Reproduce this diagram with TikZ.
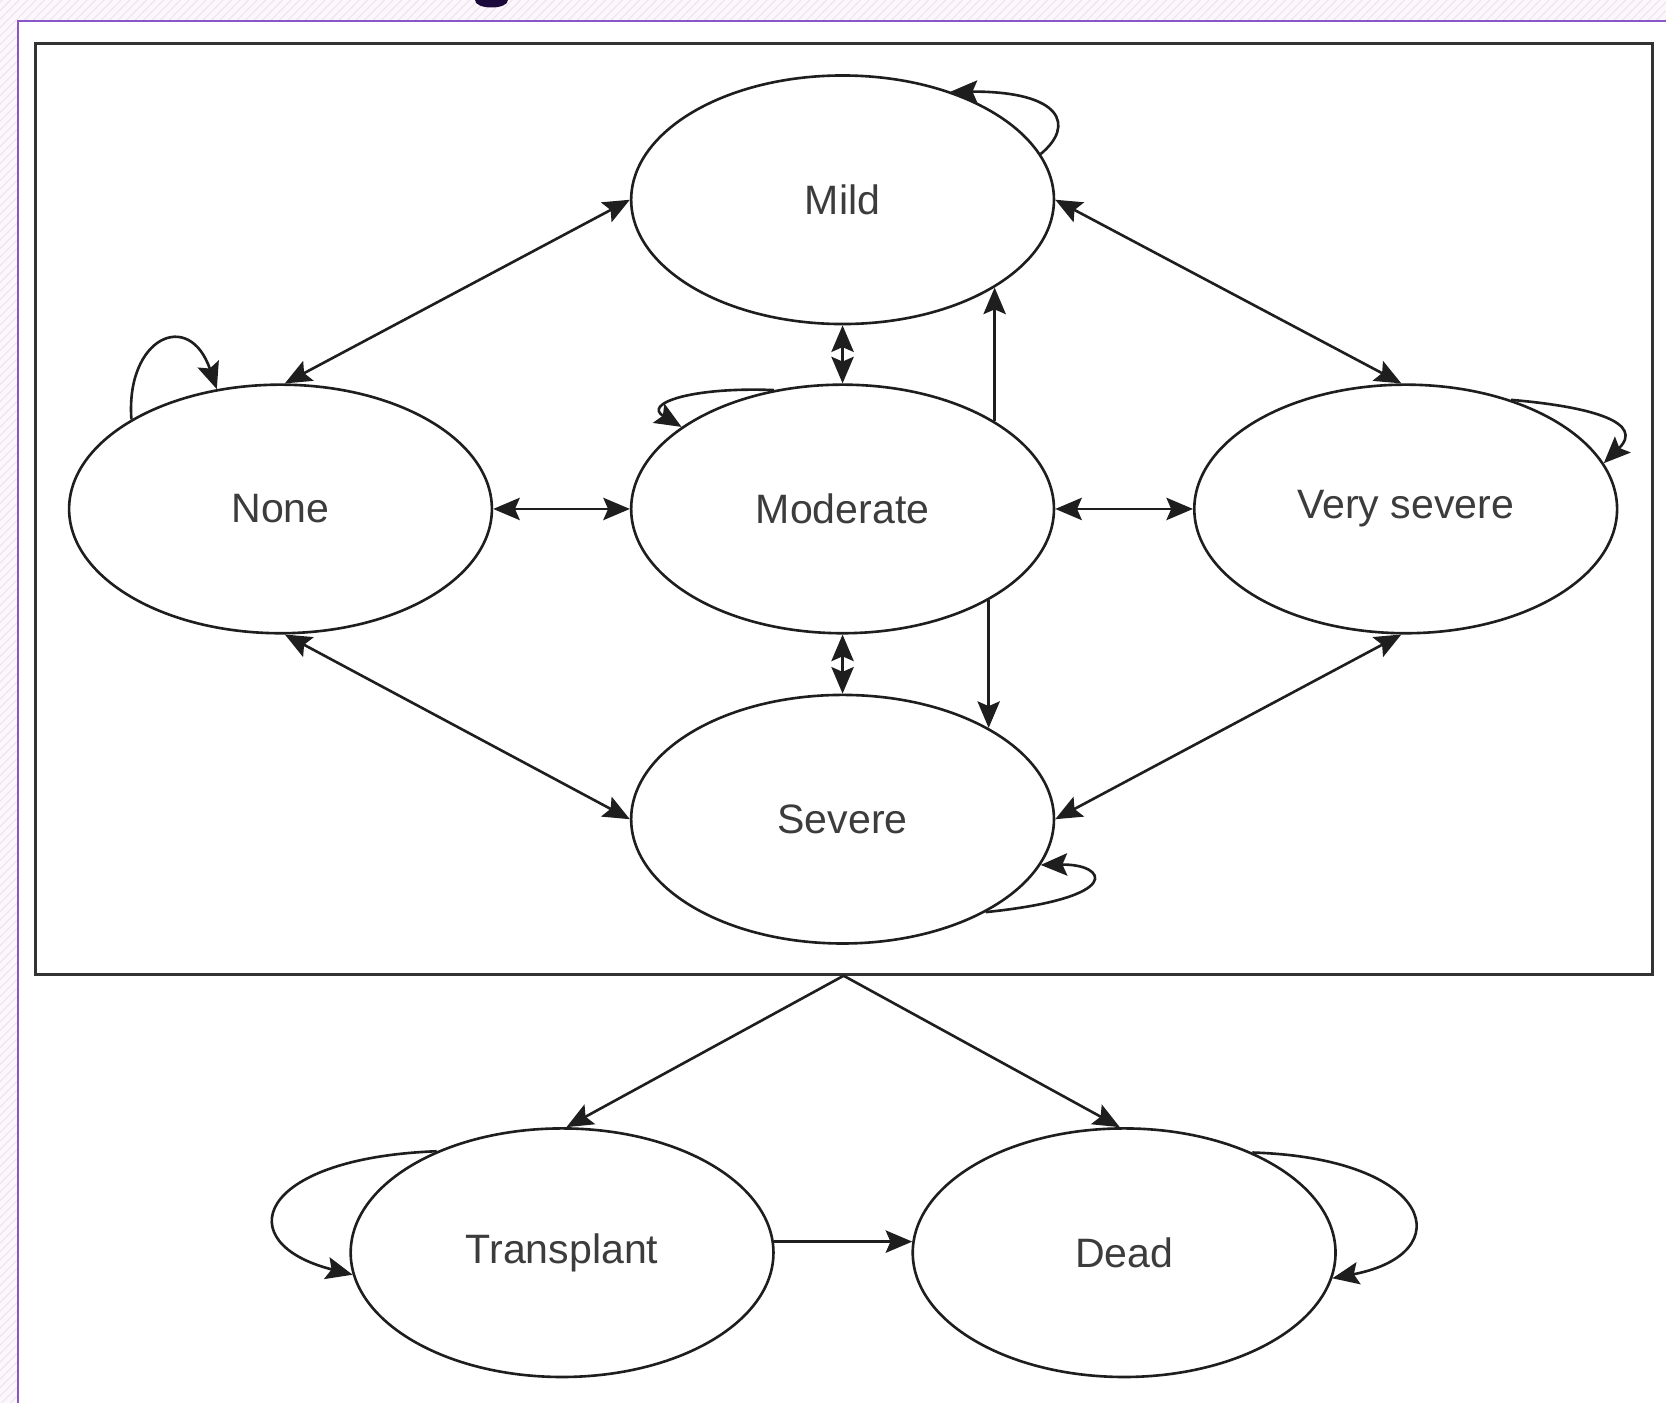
\documentclass[tikz,border=0pt]{standalone}
\usepackage{fontspec}
\setmainfont{Liberation Sans}
\usetikzlibrary{shapes.geometric,arrows.meta}
\definecolor{txtgray}{HTML}{3C3C3C}
\definecolor{linegray}{HTML}{1E1E1E}
\definecolor{framegray}{HTML}{333333}
\definecolor{purp}{HTML}{8A58C6}
\definecolor{hatchbg}{HTML}{FCF7FB}
\definecolor{hatchln}{HTML}{F1E2EE}
\definecolor{titledark}{HTML}{1C0A3C}
\begin{document}
\begin{tikzpicture}[x=0.02cm,y=-0.02cm,
  state/.style={ellipse, draw=linegray, line width=1.4pt, fill=white,
    minimum width=7.96cm, minimum height=4.68cm, inner sep=0pt,
    font=\fontsize{22}{26}\selectfont, text=txtgray},
  tip/.tip={Stealth[length=0.5cm,width=0.42cm,inset=0.09cm]},
  arr/.style={line width=1.4pt, draw=linegray, -tip},
  darr/.style={line width=1.4pt, draw=linegray, tip-tip}]
\useasboundingbox (0,0) rectangle (1568,1320);
% slide background
\fill[white] (0,0) rectangle (1568,1320);
\fill[hatchbg] (0,0) rectangle (1568,20);
\fill[hatchbg] (0,0) rectangle (17,1320);
\begin{scope}
  \clip (0,0) rectangle (1568,20) (0,0) rectangle (17,1320);
  \foreach \i in {-1400,-1392,...,1600}
    \draw[hatchln, line width=0.6pt] (\i,1330) -- ++(1330,-1330);
\end{scope}
\fill[titledark] (447,0) .. controls (447,9) and (478,9) .. (478,0) -- cycle;
\draw[purp, line width=1.1pt] (17,1320) -- (17,20) -- (1568,20);
% frame
\node[draw=framegray, line width=1.6pt, minimum width=30.44cm, minimum height=17.52cm, inner sep=0pt] (frame) at (794,479) {};
% states
\node[state] (mild) at (793,188) {Mild};
\node[state] (none) at (264,479) {None};
\node[state] (moderate) at (793,479) {Moderate};
\node[state] (vsevere) at (1323,479) {Very severe};
\node[state] (severe) at (793,771) {Severe};
\node[state] (transplant) at (529,1179) {Transplant};
\node[state] (dead) at (1058,1179) {Dead};
% two-way connectors
\draw[darr] (mild.west) -- (none.88);
\draw[darr] (mild.east) -- (vsevere.92);
\draw[darr] (none.east) -- (moderate.west);
\draw[darr] (moderate.east) -- (vsevere.west);
\draw[darr] (mild.south) -- (moderate.north);
\draw[darr] (moderate.south) -- (severe.north);
\draw[darr] (none.-88) -- (severe.west);
\draw[darr] (vsevere.-92) -- (severe.east);
% one-way connectors
\draw[arr] (moderate.30) -- (mild.-30);
\draw[arr] (moderate.-32) -- (severe.32);
\draw[arr] (frame.south) -- (transplant.88);
\draw[arr] (frame.south) -- (dead.92);
\draw[arr] (transplant.3) -- (dead.177);
% self loops
\draw[arr] (mild.13) .. controls (1012,118) and (1000,86) .. (mild.45);
\draw[arr] (none.149) .. controls (118,318) and (178,290) .. (none.118);
\draw[arr] (moderate.120) .. controls (650,364) and (605,380) .. (moderate.153);
\draw[arr] (vsevere.46) .. controls (1500,383) and (1548,398) .. (vsevere.13);
\draw[arr] (severe.-33) .. controls (1060,845) and (1042,813) .. (severe.-13);
\draw[arr] (transplant.141) .. controls (240,1090) and (215,1170) .. (transplant.186);
\draw[arr] (dead.38) .. controls (1350,1090) and (1375,1180) .. (dead.-7);
\end{tikzpicture}
\end{document}
